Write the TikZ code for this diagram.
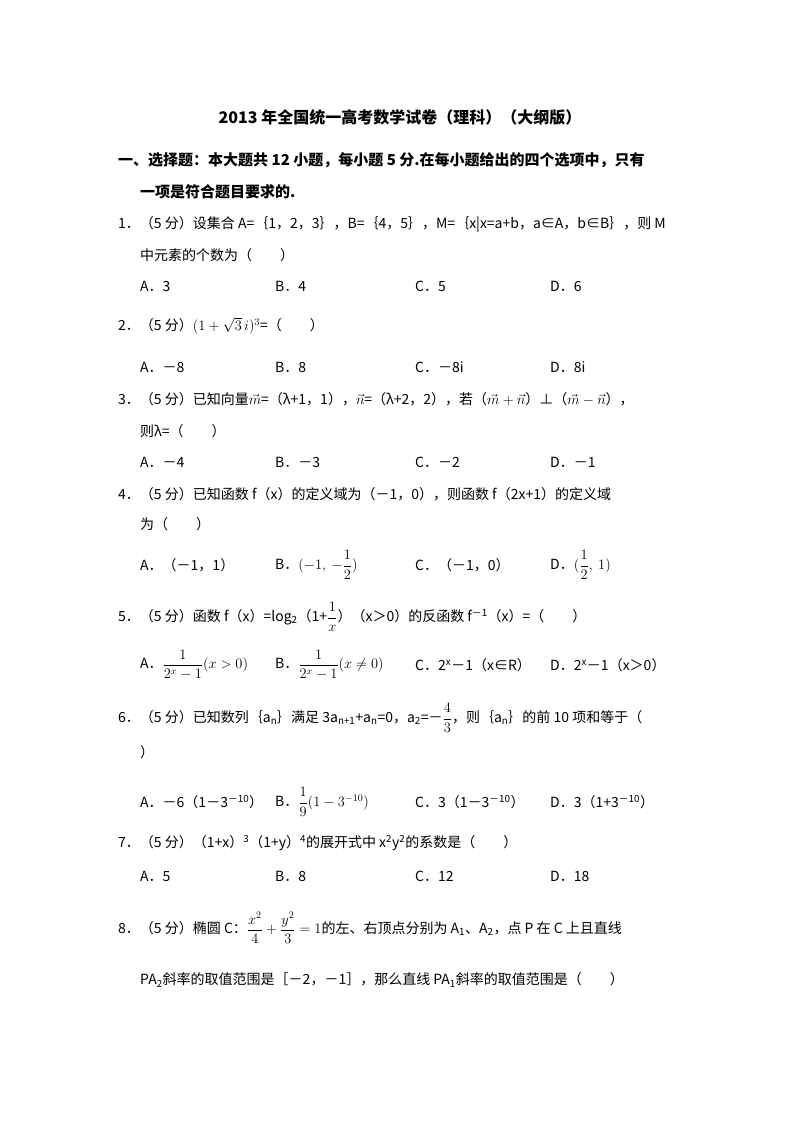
\documentclass[tikz,border=0pt]{standalone}
\usepackage{amsmath}
\usepackage{fontspec}
\setmainfont{Noto Sans CJK SC}
\begin{document}
\begin{tikzpicture}[x=1pt,y=-1pt,
  t/.style={anchor=west,inner sep=0pt,font=\fontsize{14}{16}\selectfont},
  h/.style={anchor=west,inner sep=0pt,font=\fontsize{15}{18}\selectfont\bfseries}]
\useasboundingbox (0,0) rectangle (800,1132);
\node[inner sep=0pt,font=\fontsize{16}{18}\selectfont\bfseries] (title) at (400,117) {2013 年全国统一高考数学试卷（理科）（大纲版）};
\node[h] (s1) at (118,160) {一、选择题：本大题共 12 小题，每小题 5 分.在每小题给出的四个选项中，只有};
\node[h] (s2) at (140,192) {一项是符合题目要求的.};
% Q1
\node[t] (q1a) at (118,224) {1．（5 分）设集合 A=｛1，2，3｝，B=｛4，5｝，M=｛x|x=a+b，a∈A，b∈B｝，则 M};
\node[t] (q1b) at (140,255) {中元素的个数为（　　）};
\node[t] (q1A) at (140,286) {A．3};
\node[t] (q1B) at (275,286) {B．4};
\node[t] (q1C) at (415,286) {C．5};
\node[t] (q1D) at (550,286) {D．6};
% Q2
\node[t] (q2) at (118,326) {2．（5 分）\((1+\sqrt{3}\,i)^3\)=（　　）};
\node[t] (q2A) at (140,367) {A．－8};
\node[t] (q2B) at (275,367) {B．8};
\node[t] (q2C) at (415,367) {C．－8i};
\node[t] (q2D) at (550,367) {D．8i};
% Q3
\node[t] (q3a) at (118,399) {3．（5 分）已知向量\(\vec{m}\)=（λ+1，1），\(\vec{n}\)=（λ+2，2），若（\(\vec{m}+\vec{n}\)）⊥（\(\vec{m}-\vec{n}\)），};
\node[t] (q3b) at (140,431) {则λ=（　　）};
\node[t] (q3A) at (140,462) {A．－4};
\node[t] (q3B) at (275,462) {B．－3};
\node[t] (q3C) at (415,462) {C．－2};
\node[t] (q3D) at (550,462) {D．－1};
% Q4
\node[t] (q4a) at (118,494) {4．（5 分）已知函数 f（x）的定义域为（－1，0），则函数 f（2x+1）的定义域};
\node[t] (q4b) at (140,524) {为（　　）};
\node[t] (q4A) at (140,565) {A．（－1，1）};
\node[t] (q4B) at (275,565) {B．\((-1,\ -\dfrac{1}{2})\)};
\node[t] (q4C) at (415,565) {C．（－1，0）};
\node[t] (q4D) at (550,565) {D．\((\dfrac{1}{2},\ 1)\)};
% Q5
\node[t] (q5) at (118,617) {5．（5 分）函数 f（x）=log\textsubscript{2}（1+\(\dfrac{1}{x}\)）（x＞0）的反函数 f\textsuperscript{－1}（x）=（　　）};
\node[t] (q5A) at (140,665) {A．\(\dfrac{1}{2^x-1}(x>0)\)};
\node[t] (q5B) at (275,665) {B．\(\dfrac{1}{2^x-1}(x\neq 0)\)};
\node[t] (q5C) at (415,665) {C．2\textsuperscript{x}－1（x∈R）};
\node[t] (q5D) at (550,665) {D．2\textsuperscript{x}－1（x＞0）};
% Q6
\node[t] (q6a) at (118,718) {6．（5 分）已知数列｛a\textsubscript{n}｝满足 3a\textsubscript{n+1}+a\textsubscript{n}=0，a\textsubscript{2}=－\(\dfrac{4}{3}\)，则｛a\textsubscript{n}｝的前 10 项和等于（};
\node[t] (q6b) at (140,752) {）};
\node[t] (q6A) at (140,802) {A．－6（1－3\textsuperscript{－10}）};
\node[t] (q6B) at (275,802) {B．\(\dfrac{1}{9}(1-3^{-10})\)};
\node[t] (q6C) at (415,802) {C．3（1－3\textsuperscript{－10}）};
\node[t] (q6D) at (550,802) {D．3（1+3\textsuperscript{－10}）};
% Q7
\node[t] (q7) at (118,843) {7．（5 分）（1+x）\textsuperscript{3}（1+y）\textsuperscript{4}的展开式中 x\textsuperscript{2}y\textsuperscript{2}的系数是（　　）};
\node[t] (q7A) at (140,876) {A．5};
\node[t] (q7B) at (275,876) {B．8};
\node[t] (q7C) at (415,876) {C．12};
\node[t] (q7D) at (550,876) {D．18};
% Q8
\node[t] (q8a) at (118,928) {8．（5 分）椭圆 C：\(\dfrac{x^2}{4}+\dfrac{y^2}{3}=1\)的左、右顶点分别为 A\textsubscript{1}、A\textsubscript{2}，点 P 在 C 上且直线};
\node[t] (q8b) at (140,980) {PA\textsubscript{2}斜率的取值范围是［－2，－1］，那么直线 PA\textsubscript{1}斜率的取值范围是（　　）};
\end{tikzpicture}
\end{document}
